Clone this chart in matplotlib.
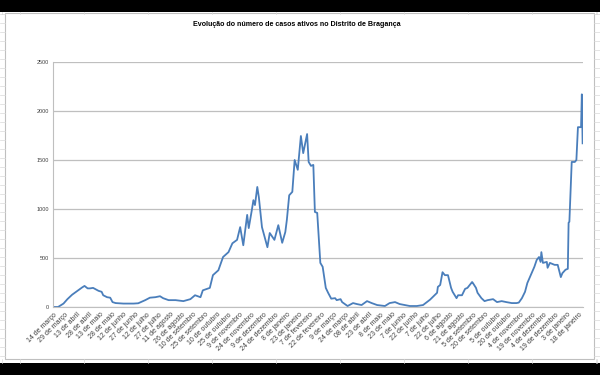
import matplotlib
matplotlib.use('Agg')
import matplotlib.pyplot as plt
from matplotlib.patches import Rectangle
from matplotlib.lines import Line2D

plt.rcParams['font.family'] = ['Liberation Sans Narrow', 'Liberation Sans', 'DejaVu Sans']

# dias desde 14 de março de 2020 e casos ativos
dia = [0, 6, 13, 18, 24, 31, 37, 40, 44, 47, 51, 58, 62, 64, 69, 73, 76, 80, 90, 103,
       109, 118, 124, 131, 137, 141, 148, 157, 167, 176, 182, 189, 192, 201, 205, 212,
       218, 225, 230, 236, 240, 244, 249, 251, 255, 257, 259, 262, 264, 268, 275, 278,
       284, 289, 294, 298, 300, 303, 307, 310, 314, 318, 321, 326, 328, 331, 334, 336,
       339, 343, 346, 350, 353, 357, 362, 364, 369, 371, 378, 385, 390, 396, 403, 409,
       416, 426, 432, 439, 445, 458, 467, 475, 480, 484, 493, 494, 497, 500, 503, 507,
       511, 513, 518, 520, 525, 529, 532, 538, 539, 543, 545, 550, 554, 558, 565, 570,
       576, 582, 589, 595, 598, 602, 606, 609, 615, 618, 621, 624, 626, 627, 629, 634,
       635, 638, 644, 648, 652, 654, 658, 661, 662, 663, 666, 670, 672, 674, 678, 679, 680]
casos = [0, 0, 35, 80, 125, 165, 200, 215, 190, 190, 195, 165, 155, 120, 100, 95, 50, 40, 35, 35,
         38, 70, 95, 100, 110, 90, 70, 70, 60, 80, 120, 100, 170, 195, 325, 375,
         510, 560, 650, 685, 815, 630, 940, 805, 990, 1090, 1040, 1225, 1120, 815, 610, 755,
         685, 835, 655, 765, 890, 1140, 1175, 1500, 1400, 1745, 1570, 1765, 1480, 1440, 1450, 970,
         960, 450, 410, 195, 145, 85, 90, 70, 80, 50, 10, 40, 30, 20, 60, 40,
         20, 10, 40, 50, 30, 10, 10, 20, 50, 75, 145, 205, 225, 355, 325, 325,
         195, 155, 90, 120, 120, 185, 195, 255, 245, 195, 145, 90, 60, 70, 80, 50,
         60, 50, 40, 40, 45, 90, 155, 245, 355, 410, 480, 510, 460, 560, 450, 460,
         400, 450, 430, 430, 305, 345, 380, 390, 860, 870, 1480, 1480, 1500, 1835, 1835, 2170, 1670]

rotulos = ['14 de março', '29 de março', '13 de abril', '28 de abril', '13 de maio', '28 de maio',
           '12 de junho', '27 de junho', '12 de julho', '27 de julho', '11 de agosto', '26 de agosto',
           '10 de setembro', '25 de setembro', '10 de outubro', '25 de outubro', '9 de novembro',
           '24 de novembro', '9 de dezembro', '24 de dezembro', '8 de janeiro', '23 de janeiro',
           '7 de fevereiro', '22 de fevereiro', '9 de março', '24 de março', '08 de abril',
           '23 de abril', '8 de maio', '23 de maio', '7 de junho', '22 de junho', '7 de julho',
           '22 de julho', '6 de agosto', '21 de agosto', '5 de setembro', '20 de setembro',
           '5 de outubro', '20 de outubro', '4 de novembro', '19 de novembro', '4 de dezembro',
           '19 de dezembro', '3 de janeiro', '18 de janeiro']
pos_rotulos = [15 * i for i in range(len(rotulos))]

fig = plt.figure(figsize=(6, 3.75), dpi=100)
fig.patch.set_facecolor('white')

# fundo de folha de cálculo nas margens
for y in range(14, 362, 9):
    fig.add_artist(Line2D([0, 5 / 600], [1 - y / 375] * 2, color='#d9d9d9', lw=0.5))
    fig.add_artist(Line2D([594 / 600, 1], [1 - y / 375] * 2, color='#d9d9d9', lw=0.5))
for x in [2, 597] + list(range(20, 600, 64)):
    fig.add_artist(Line2D([x / 600] * 2, [1 - 12 / 375, 1 - 14 / 375], color='#d9d9d9', lw=0.5))
    fig.add_artist(Line2D([x / 600] * 2, [1 - 359 / 375, 1 - 363 / 375], color='#d9d9d9', lw=0.5))

# moldura do gráfico
fig.add_artist(Rectangle((5 / 600, 1 - 359 / 375), 589 / 600, 346 / 375, transform=fig.transFigure,
                         facecolor='white', edgecolor='#bfbfbf', lw=0.8, zorder=0))
# barras pretas
fig.add_artist(Rectangle((0, 1 - 12 / 375), 1, 12 / 375, transform=fig.transFigure,
                         facecolor='black', edgecolor='none'))
fig.add_artist(Rectangle((0, 0), 1, 12 / 375, transform=fig.transFigure,
                         facecolor='black', edgecolor='none'))

ax = fig.add_axes([53 / 600, 1 - 307 / 375, 530 / 600, 245 / 375])
ax.set_facecolor('none')
ax.plot(dia, casos, color='#4a7ebb', lw=1.3)

ax.set_xlim(-0.5, 680.5)
ax.set_ylim(0, 2500)
ax.set_yticks(range(0, 2501, 500))
ax.yaxis.grid(True, color='#bfbfbf', lw=0.9)
ax.set_axisbelow(True)
ax.set_xticks(pos_rotulos)
ax.set_xticklabels(rotulos, rotation=45, ha='right', rotation_mode='anchor', fontsize=5, color='#404040')
ax.tick_params(axis='x', length=0, pad=3)
ax.tick_params(axis='y', length=0, pad=3, labelsize=4, labelcolor='#404040')
for s in ['top', 'right']:
    ax.spines[s].set_visible(False)
ax.spines['left'].set_color('#bfbfbf')
ax.spines['bottom'].set_color('#bfbfbf')

fig.text(297 / 600, 1 - 25 / 375, 'Evolução do número de casos ativos no Distrito de Bragança',
         ha='center', va='center', fontsize=5.1, fontweight='bold')

fig.savefig('out.png', dpi=100)
